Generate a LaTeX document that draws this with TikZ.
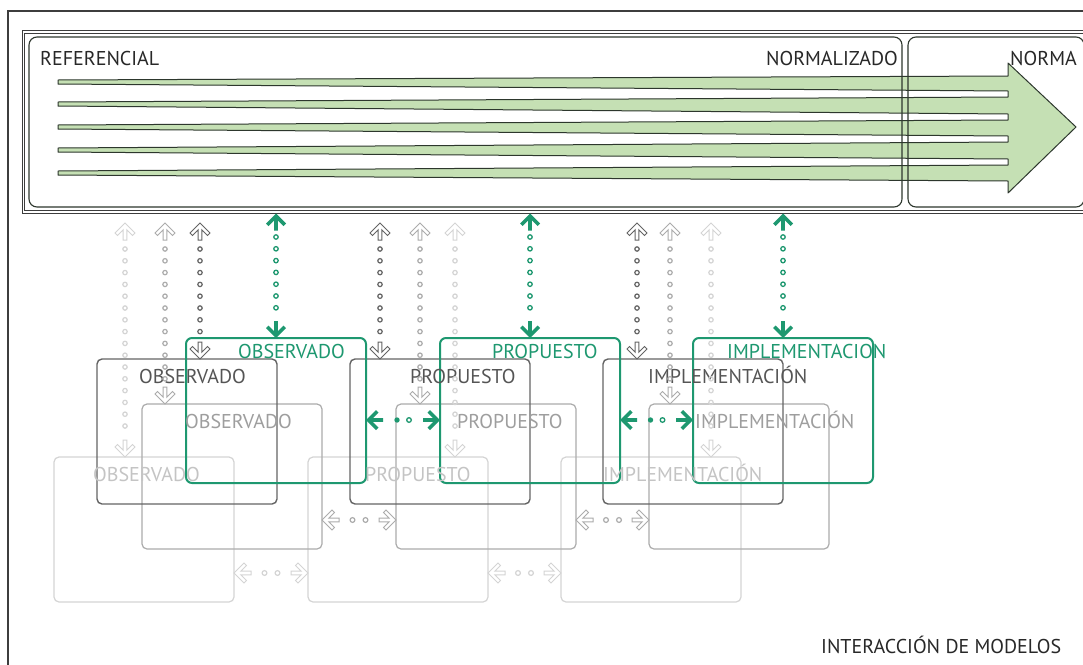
\documentclass[tikz,border=0pt]{standalone}
\usepackage{fontspec}
\setmainfont{PT Sans}
\usetikzlibrary{decorations.markings,calc}

\definecolor{tealg}{RGB}{30,152,112}
\definecolor{agreen}{RGB}{197,224,180}
\definecolor{aline}{RGB}{45,55,45}
\definecolor{dkg}{RGB}{100,100,100}
\definecolor{mdg}{RGB}{172,172,172}
\definecolor{ltg}{RGB}{212,212,212}
\definecolor{dkt}{RGB}{85,85,85}
\definecolor{mdt}{RGB}{158,158,158}
\definecolor{ltt}{RGB}{196,196,196}
\definecolor{txt}{RGB}{40,40,40}

\newcommand{\headshape}{(0,0) -- (-10,10) -- (-12.5,7.5) -- (-6.8,1.8) -- (-17,1.8) -- (-17,-1.8) -- (-6.8,-1.8) -- (-12.5,-7.5) -- (-10,-10) -- cycle}
\newcommand{\openhead}[1]{\draw[draw=#1, fill=white, line width=1pt, line join=miter] \headshape;}
\newcommand{\solidhead}[1]{\fill[#1] \headshape;}

\tikzset{
  lbl/.style={font=\fontsize{20}{24}\selectfont, inner sep=0pt, anchor=base west},
  mbox/.style={minimum width=180pt, minimum height=145pt, inner sep=0pt, outer sep=0pt, anchor=north west, rounded corners=5pt},
  lbox/.style={mbox, draw=ltg, line width=1.2pt},
  mdbox/.style={mbox, draw=mdg, line width=1.2pt},
  dbox/.style={mbox, draw=dkg, line width=1.4pt},
  gbox/.style={mbox, draw=tealg, line width=2pt, rounded corners=6pt},
  ibox/.style={draw=aline, line width=1.1pt, rounded corners=8pt, inner sep=0pt, outer sep=0pt, anchor=north west},
  vgray/.style={decorate, decoration={markings,
    mark=at position 0 with {\begin{scope}[xscale=-1]\openhead{#1}\end{scope}},
    mark=between positions 26pt and -25pt step 11.8pt with {\draw[#1, line width=1.2pt] (0,0) circle (2.2pt);},
    mark=at position 1 with {\openhead{#1}}}},
  vgreen/.style={decorate, decoration={markings,
    mark=at position 0 with {\begin{scope}[xscale=-1]\solidhead{tealg}\end{scope}},
    mark=between positions 23.5pt and -30pt step 11.8pt with {\draw[tealg, line width=1.3pt] (0,0) circle (2.2pt);},
    mark=at position 1 with {\solidhead{tealg}}}},
  hgray/.style={decorate, decoration={markings,
    mark=at position 0 with {\begin{scope}[xscale=-1]\openhead{#1}\end{scope}},
    mark=at position 0.5 with {\draw[#1, line width=1.2pt] (-6.5,0) circle (2.4pt) (6.5,0) circle (2.4pt);},
    mark=at position 1 with {\openhead{#1}}}},
  hgreen/.style={decorate, decoration={markings,
    mark=at position 0 with {\begin{scope}[xscale=-1]\solidhead{tealg}\end{scope}},
    mark=at position 0.5 with {\fill[tealg] (-6,0) circle (2.7pt); \draw[tealg, line width=1.3pt] (6,0) circle (2.3pt);},
    mark=at position 1 with {\solidhead{tealg}}}}
}

\begin{document}
\begin{tikzpicture}[x=1pt,y=-1pt]
\useasboundingbox (0,0) rectangle (1083,664);
\clip (0,0) rectangle (1083,664);
\fill[white] (0,0) rectangle (1083,664);

% frames
\draw[draw=txt!90, line width=1.1pt] (8,11) rectangle (1100,700);
\draw[draw=txt!90, line width=0.8pt, double=white, double distance=1.6pt] (23.5,32) rectangle (1100,212);
\coordinate (frameB) at (0,213.5);

% big arrow
\filldraw[fill=agreen, draw=aline, line width=1pt, line join=round]
  (58,80) -- (1008,76) -- (1008,63) -- (1076,127) -- (1008,193) -- (1008,181)
  -- (58,175) -- (58,171) -- (1008,165)
  -- (1008,159) -- (58,152) -- (58,148) -- (1008,142)
  -- (1008,136) -- (58,129) -- (58,125) -- (1008,120)
  -- (1008,114) -- (58,106) -- (58,102) -- (1008,97)
  -- (1008,91) -- (58,84) -- cycle;

% inner boxes
\node[ibox, minimum width=873pt, minimum height=170pt] (refbox) at (29,37) {};
\node[ibox, minimum width=176pt, minimum height=170pt] (normbox) at (908,37) {};
\node[lbl, text=txt] (tref) at (40,65) {REFERENCIAL};
\node[lbl, text=txt, anchor=base east] (tnorm) at (898,65) {NORMALIZADO};
\node[lbl, text=txt] (tnorma) at (1010,65) {NORMA};

% model boxes
\node[lbox] (l1) at (54,457) {};
\node[lbox] (l2) at (308,457) {};
\node[lbox] (l3) at (561,457) {};
\node[mdbox] (m1) at (142,404) {};
\node[mdbox] (m2) at (396,404) {};
\node[mdbox] (m3) at (649,404) {};
\node[dbox] (d1) at (97,359) {};
\node[dbox] (d2) at (350,359) {};
\node[dbox] (d3) at (603,359) {};
\node[gbox] (g1) at (186,338) {};
\node[gbox] (g2) at (440,338) {};
\node[gbox] (g3) at (693,338) {};

% labels
\node[lbl, text=ltt] (lt1) at (93,481) {OBSERVADO};
\node[lbl, text=ltt] (lt2) at (365,481) {PROPUESTO};
\node[lbl, text=ltt] (lt3) at (603,481) {IMPLEMENTACIÓN};
\node[lbl, text=mdt] (mt1) at (185,428) {OBSERVADO};
\node[lbl, text=mdt] (mt2) at (457,428) {PROPUESTO};
\node[lbl, text=mdt] (mt3) at (695,428) {IMPLEMENTACIÓN};
\node[lbl, text=dkt] (dt1) at (139,383) {OBSERVADO};
\node[lbl, text=dkt] (dt2) at (410,383) {PROPUESTO};
\node[lbl, text=dkt] (dt3) at (648,383) {IMPLEMENTACIÓN};
\node[lbl, text=tealg] (gt1) at (238,358) {OBSERVADO};
\node[lbl, text=tealg] (gt2) at (492,358) {PROPUESTO};
\node[lbl, text=tealg] (gt3) at (727,358) {IMPLEMENTACION};

% vertical connectors
\coordinate (vl1) at (125,223); \coordinate (vm1) at (165,223); \coordinate (vd1) at (200,223);
\coordinate (vd2) at (380,223); \coordinate (vm2) at (420,223); \coordinate (vl2) at (455,223);
\coordinate (vd3) at (637,223); \coordinate (vm3) at (670,223); \coordinate (vl3) at (711,223);

\path[vgray=ltg] (vl1) -- (vl1 |- l1.north);
\path[vgray=mdg] (vm1) -- (vm1 |- m1.north);
\path[vgray=dkg] (vd1) -- (vd1 |- d1.north);
\path[vgray=dkg] (vd2) -- (vd2 |- d2.north);
\path[vgray=mdg] (vm2) -- (vm2 |- m2.north);
\path[vgray=ltg] (vl2) -- (vl2 |- l2.north);
\path[vgray=dkg] (vd3) -- (vd3 |- d3.north);
\path[vgray=mdg] (vm3) -- (vm3 |- m3.north);
\path[vgray=ltg] (vl3) -- (vl3 |- l3.north);

\path[vgreen] (g1.north |- frameB) -- (g1.north);
\path[vgreen] (g2.north |- frameB) -- (g2.north);
\path[vgreen] (g3.north |- frameB) -- (g3.north);

% horizontal connectors
\coordinate (hg) at (0,420);
\coordinate (hm) at (0,520);
\coordinate (hl) at (0,573);
\path[hgreen] (g1.east |- hg) -- (g2.west |- hg);
\path[hgreen] (g2.east |- hg) -- (g3.west |- hg);
\path[hgray=mdg] (m1.east |- hm) -- (m2.west |- hm);
\path[hgray=mdg] (m2.east |- hm) -- (m3.west |- hm);
\path[hgray=ltg] (l1.east |- hl) -- (l2.west |- hl);
\path[hgray=ltg] (l2.east |- hl) -- (l3.west |- hl);

% title
\node[lbl, text=txt] (title) at (821,653) {INTERACCIÓN DE MODELOS};
\end{tikzpicture}
\end{document}
